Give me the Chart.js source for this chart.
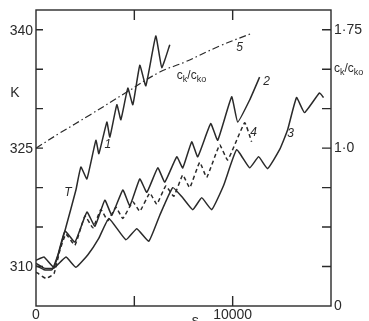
<!DOCTYPE html>
<html><head><meta charset="utf-8">
<script src="https://cdn.jsdelivr.net/npm/chart.js@4.4.1/dist/chart.umd.min.js"></script>
<style>html,body{margin:0;padding:0;background:#fff;}#wrap{width:369px;height:321px;}</style>
</head><body><div id="wrap"><canvas id="c" width="369" height="321"></canvas></div>
<script>
// ---- data (time s, temperature K; ratio ck/cko on right axis) ----
const c1S = [0,406,914,1523,2030,2284,2589,3046,3198,3604,3756,4112,4315,4670,4924,5279,5584,6091,6396,6802];
const c1K = [310.8,311.2,309.9,315.0,319.7,322.6,321.1,326.0,324.3,328.3,326.4,330.5,328.6,332.6,330.5,335.5,332.9,339.2,335.2,338.1];
const c2S = [0,406,812,1117,1472,1980,2589,2995,3502,3858,4416,4771,5279,5634,6193,6548,7157,7462,7919,8223,8883,9238,9949,10254,10863,11370];
const c2K = [310.1,309.6,309.6,311.5,314.5,313.1,316.9,315.1,318.4,316.5,319.7,317.7,321.1,319.4,322.5,320.7,323.9,322.5,325.8,323.9,328.1,326.0,331.5,328.3,331.1,334.0];
const c3S = [0,406,914,1523,2030,2640,3198,3705,4568,5127,5736,6294,6954,7462,7969,8426,8934,9543,10203,10863,11320,11776,12385,12792,13248,13654,14416,14619];
const c3K = [310.4,309.8,309.8,311.2,309.9,311.5,313.6,316.1,313.4,314.8,313.2,316.5,320.0,318.7,317.2,318.7,317.2,320.3,324.8,322.5,323.9,322.4,324.8,327.3,331.4,329.5,332.0,331.4];
const c4S = [0,508,914,1218,1523,1980,2487,2893,3299,3655,4061,4416,4924,5279,5787,6142,6599,7005,7462,7817,8325,8680,9340,9746,10609,10964];
const c4K = [309.3,308.5,309.1,312.1,314.1,312.7,316.4,314.9,317.2,315.8,317.5,316.1,318.2,317.0,319.3,317.9,320.2,318.9,321.6,320.0,323.2,321.3,325.4,323.5,328.2,325.8];
const c5S = [0,1218,2741,4619,6294,7563,9340,11015];
const c5R = [1.0,1.096,1.21,1.355,1.482,1.545,1.647,1.729];

const xTicks = [5000,10000];
const xLabels = [[0,'0'],[10000,'10000']];
const kTicks = [310,315,320,325,330,335,340];
const kLabels = [[310,'310'],[325,'325'],[340,'340']];
const rTicks = [0.25,0.5,0.75,1.0,1.25,1.5,1.75];
const rLabels = [[0,'0'],[1.0,'1·0'],[1.75,'1·75']];

const curveNames = [
  {t:'1', s:3655, k:325.4},
  {t:'2', s:11725, k:333.4},
  {t:'3', s:12944, k:326.8},
  {t:'4', s:11066, k:326.9},
  {t:'5', s:10355, k:337.7},
  {t:'T', s:1624, k:319.3}
];

const pts = (xs, ys) => xs.map((v,i)=>({x:v, y:ys[i]}));
const INK = '#2a2a2a';
const FONT = '"Liberation Sans", Arial, sans-serif';

function drawSub(ctx, x, y, size){
  const parts = [['c',0],['k',1],['/c',0],['ko',1]];
  ctx.textBaseline='alphabetic'; ctx.textAlign='left';
  for (const [s,sub] of parts){
    ctx.font = (sub? Math.round(size*0.75): size) + 'px ' + FONT;
    ctx.fillText(s, x, y + (sub? 3:0));
    x += ctx.measureText(s).width;
  }
}

const framePlugin = {
  id:'frame',
  afterDatasetsDraw(chart){
    const {ctx, chartArea:a, scales} = chart;
    const X=scales.x, Y=scales.y, R=scales.y2;
    ctx.save();
    ctx.strokeStyle=INK; ctx.fillStyle=INK; ctx.lineWidth=1.4;
    ctx.strokeRect(a.left, a.top, a.right-a.left, a.bottom-a.top);
    ctx.beginPath();
    for (const v of kTicks){ const y=Y.getPixelForValue(v); ctx.moveTo(a.left,y); ctx.lineTo(a.left+7,y); }
    for (const v of rTicks){ const y=R.getPixelForValue(v); ctx.moveTo(a.right,y); ctx.lineTo(a.right-9,y); }
    for (const v of xTicks){ const x=X.getPixelForValue(v); ctx.moveTo(x,a.bottom); ctx.lineTo(x,a.bottom-10); ctx.moveTo(x,a.top); ctx.lineTo(x,a.top+10); }
    ctx.stroke();
    ctx.font='14px '+FONT;
    ctx.textAlign='right'; ctx.textBaseline='middle';
    for (const [v,t] of kLabels) ctx.fillText(t, a.left-3, Y.getPixelForValue(v)+1);
    ctx.textAlign='left';
    for (const [v,t] of rLabels) ctx.fillText(t, a.right+3, R.getPixelForValue(v));
    ctx.textAlign='center'; ctx.textBaseline='top';
    for (const [v,t] of xLabels) ctx.fillText(t, X.getPixelForValue(v), a.bottom+2);
    ctx.fillText('s', X.getPixelForValue(8100), a.bottom+8);
    ctx.textBaseline='middle';
    ctx.fillText('K', 15, Y.getPixelForValue(332.0));
    drawSub(ctx, a.right+3, R.getPixelForValue(1.5)+3, 12);
    drawSub(ctx, X.getPixelForValue(7160), R.getPixelForValue(1.46)+3, 12);
    ctx.font='italic 12px '+FONT; ctx.textAlign='center'; ctx.textBaseline='middle';
    for (const c of curveNames) ctx.fillText(c.t, X.getPixelForValue(c.s), Y.getPixelForValue(c.k));
    ctx.restore();
  }
};

const base = {borderColor:INK, borderWidth:1.5, pointRadius:0, fill:false, tension:0.12};
new Chart(document.getElementById('c'), {
  type:'line',
  data:{datasets:[
    {label:'1', data:pts(c1S,c1K), yAxisID:'y'},
    {label:'2', data:pts(c2S,c2K), yAxisID:'y'},
    {label:'3', data:pts(c3S,c3K), yAxisID:'y'},
    {label:'4', data:pts(c4S,c4K), yAxisID:'y', borderDash:[4,3]},
    {label:'5', data:pts(c5S,c5R), yAxisID:'y2', borderDash:[7,3,1.5,3], borderWidth:1.2, tension:0.4}
  ].map(d=>Object.assign({}, base, d))},
  options:{
    responsive:false, animation:false, devicePixelRatio:1,
    layout:{padding:{left:36, right:38, top:10, bottom:15}},
    plugins:{legend:{display:false}, tooltip:{enabled:false}},
    scales:{
      x:{type:'linear', min:0, max:15000, display:false},
      y:{type:'linear', min:305, max:342.5, display:false},
      y2:{type:'linear', position:'right', min:0, max:1.875, display:false}
    }
  },
  plugins:[framePlugin]
});
</script></body></html>
